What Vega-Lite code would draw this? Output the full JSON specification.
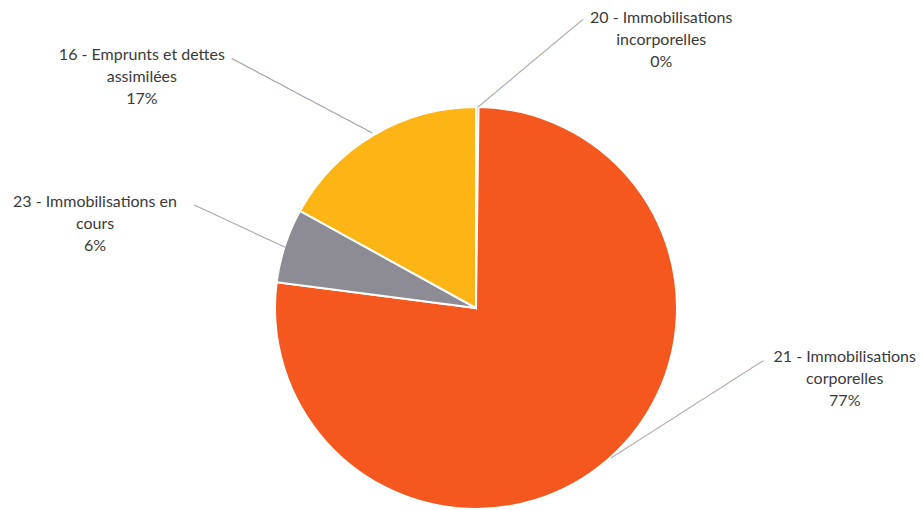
{
  "$schema": "https://vega.github.io/schema/vega-lite/v6.json",
  "width": 892,
  "height": 400,
  "padding": {"left": 30, "right": 0, "top": 108, "bottom": 2},
  "autosize": {"type": "none"},
  "background": "white",
  "view": {"stroke": null},
  "data": {
    "values": [
      {"code": "20", "label": "20 - Immobilisations\nincorporelles\n0%", "value": 0.2, "ord": 1},
      {"code": "21", "label": "21 - Immobilisations\ncorporelles\n77%", "value": 77, "ord": 2},
      {"code": "23", "label": "23 - Immobilisations en\ncours\n6%", "value": 6, "ord": 3},
      {"code": "16", "label": "16 - Emprunts et dettes\nassimilées\n17%", "value": 17, "ord": 4}
    ]
  },
  "encoding": {
    "theta": {"field": "value", "type": "quantitative", "stack": true},
    "order": {"field": "ord", "type": "quantitative"}
  },
  "layer": [
    {
      "mark": {"type": "arc", "outerRadius": 201, "stroke": "white", "strokeWidth": 2},
      "encoding": {
        "color": {
          "field": "code",
          "type": "nominal",
          "scale": {"domain": ["20", "21", "23", "16"], "range": ["#4472C4", "#F4581F", "#8D8B93", "#FDB515"]},
          "legend": null
        }
      }
    },
    {
      "mark": {"type": "text", "radius": 201, "angle": -39.9, "dx": 68.6, "dy": 0.6, "align": "center", "baseline": "middle", "font": "DejaVu Sans Mono", "fontSize": 12, "color": "#a6a6a6"},
      "encoding": {"text": {"condition": {"test": "datum.code == '20'", "value": "───────────────────"}, "value": ""}}
    },
    {
      "mark": {"type": "text", "radius": 201, "angle": -32.6, "dx": 94.2, "dy": 0.3, "align": "center", "baseline": "middle", "font": "DejaVu Sans Mono", "fontSize": 12, "color": "#a6a6a6"},
      "encoding": {"text": {"condition": {"test": "datum.code == '21'", "value": "─────────────────────────"}, "value": ""}}
    },
    {
      "mark": {"type": "text", "radius": 201, "angle": 25, "dx": -48.8, "dy": 1.8, "align": "center", "baseline": "middle", "font": "DejaVu Sans Mono", "fontSize": 12, "color": "#a6a6a6"},
      "encoding": {"text": {"condition": {"test": "datum.code == '23'", "value": "──────────────"}, "value": ""}}
    },
    {
      "mark": {"type": "text", "radius": 201, "angle": 27.9, "dx": -81.9, "dy": -0.8, "align": "center", "baseline": "middle", "font": "DejaVu Sans Mono", "fontSize": 12, "color": "#a6a6a6"},
      "encoding": {"text": {"condition": {"test": "datum.code == '16'", "value": "──────────────────────"}, "value": ""}}
    },
    {
      "mark": {"type": "text", "radius": 201, "dx": 184, "dy": -89, "align": "center", "baseline": "middle", "lineBreak": "\n", "lineHeight": 22, "font": "Lato", "fontSize": 16, "color": "#3a3a3a"},
      "encoding": {"text": {"condition": {"test": "datum.code == '20'", "field": "label"}, "value": ""}}
    },
    {
      "mark": {"type": "text", "radius": 201, "dx": 237, "dy": -103, "align": "center", "baseline": "middle", "lineBreak": "\n", "lineHeight": 22, "font": "Lato", "fontSize": 16, "color": "#3a3a3a"},
      "encoding": {"text": {"condition": {"test": "datum.code == '21'", "field": "label"}, "value": ""}}
    },
    {
      "mark": {"type": "text", "radius": 201, "dx": -190, "dy": -43, "align": "center", "baseline": "middle", "lineBreak": "\n", "lineHeight": 22, "font": "Lato", "fontSize": 16, "color": "#3a3a3a"},
      "encoding": {"text": {"condition": {"test": "datum.code == '23'", "field": "label"}, "value": ""}}
    },
    {
      "mark": {"type": "text", "radius": 201, "dx": -232, "dy": -80, "align": "center", "baseline": "middle", "lineBreak": "\n", "lineHeight": 22, "font": "Lato", "fontSize": 16, "color": "#3a3a3a"},
      "encoding": {"text": {"condition": {"test": "datum.code == '16'", "field": "label"}, "value": ""}}
    }
  ]
}
